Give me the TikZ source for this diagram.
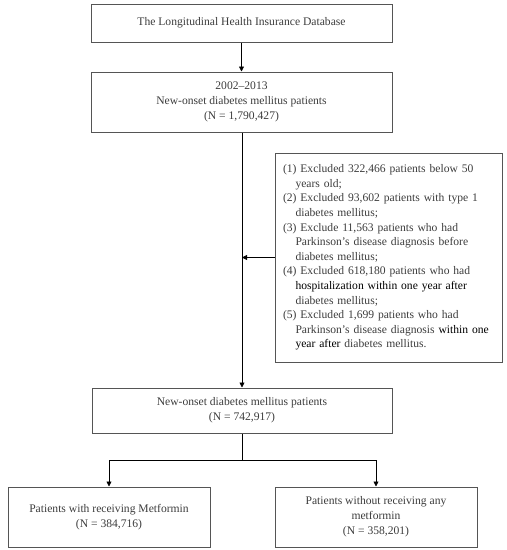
\documentclass[tikz,border=0pt]{standalone}
\usepackage{fontspec}
\setmainfont{Liberation Serif}
\usepackage{xcolor}
\usetikzlibrary{arrows.meta}

\definecolor{boxgray}{HTML}{555555}
\definecolor{textgray}{HTML}{3C3C3C}
\newcommand{\exclitem}[1]{\hangindent=12.5pt\hangafter=1 #1\par}
\newcommand{\hl}[1]{\textcolor{black}{#1}}

\tikzset{
  box/.style={draw=boxgray, line width=1pt, inner sep=0pt, align=center,
    text=textgray, font=\fontsize{11.6}{15}\selectfont},
  flow/.style={-{Triangle[length=5pt,width=5pt]}, line width=0.8pt}
}

\begin{document}
\begin{tikzpicture}[x=1pt, y=-1pt]
	\useasboundingbox (0,0) rectangle (507,550);
	% main column
	\node[box, minimum width=301pt, minimum height=38pt] (db) at (241.5,23) {The Longitudinal Health Insurance Database};
	\node[box, minimum width=301pt, minimum height=60pt] (onset) at (241.5,102) {2002--2013\\New-onset diabetes mellitus patients\\(N = 1,790,427)};
	\node[box, minimum width=227pt, minimum height=209pt, align=left, text width=211pt,
	  font=\fontsize{11.6}{14.6}\selectfont] (excl) at (388.5,257.5) {%
	  \exclitem{(1) Excluded 322,466 patients below 50\newline years old;}
	  \exclitem{(2) Excluded 93,602 patients with type 1\newline diabetes mellitus;}
	  \exclitem{(3) Exclude 11,563 patients who had\newline Parkinson's disease diagnosis before\newline diabetes mellitus;}
	  \exclitem{(4) Excluded 618,180 patients who had\newline \hl{hospitalization within one year after}\newline diabetes mellitus;}
	  \exclitem{(5) Excluded 1,699 patients who had\newline Parkinson's disease diagnosis \hl{within one}\newline \hl{year after} diabetes mellitus.}};
	\node[box, minimum width=300pt, minimum height=45pt] (cohort) at (242,410.5) {New-onset diabetes mellitus patients\\(N = 742,917)};
	% two groups
	\node[box, minimum width=202pt, minimum height=60pt] (met) at (109,517) {Patients with receiving Metformin\\(N = 384,716)};
	\node[box, minimum width=202pt, minimum height=60pt] (nomet) at (376,517) {Patients without receiving any\\metformin\\(N = 358,201)};

	\draw[flow] (db) -- (onset);
	\draw[flow] (onset.south -| cohort.north) -- (cohort.north);
	\draw[flow] (excl.west) -- (excl.west -| cohort.north);
	\draw[line width=0.8pt] (cohort.south) -- ++(0,27) coordinate (split);
	\draw[flow] (split) -| (met.north);
	\draw[flow] (split) -| (nomet.north);
\end{tikzpicture}
\end{document}
